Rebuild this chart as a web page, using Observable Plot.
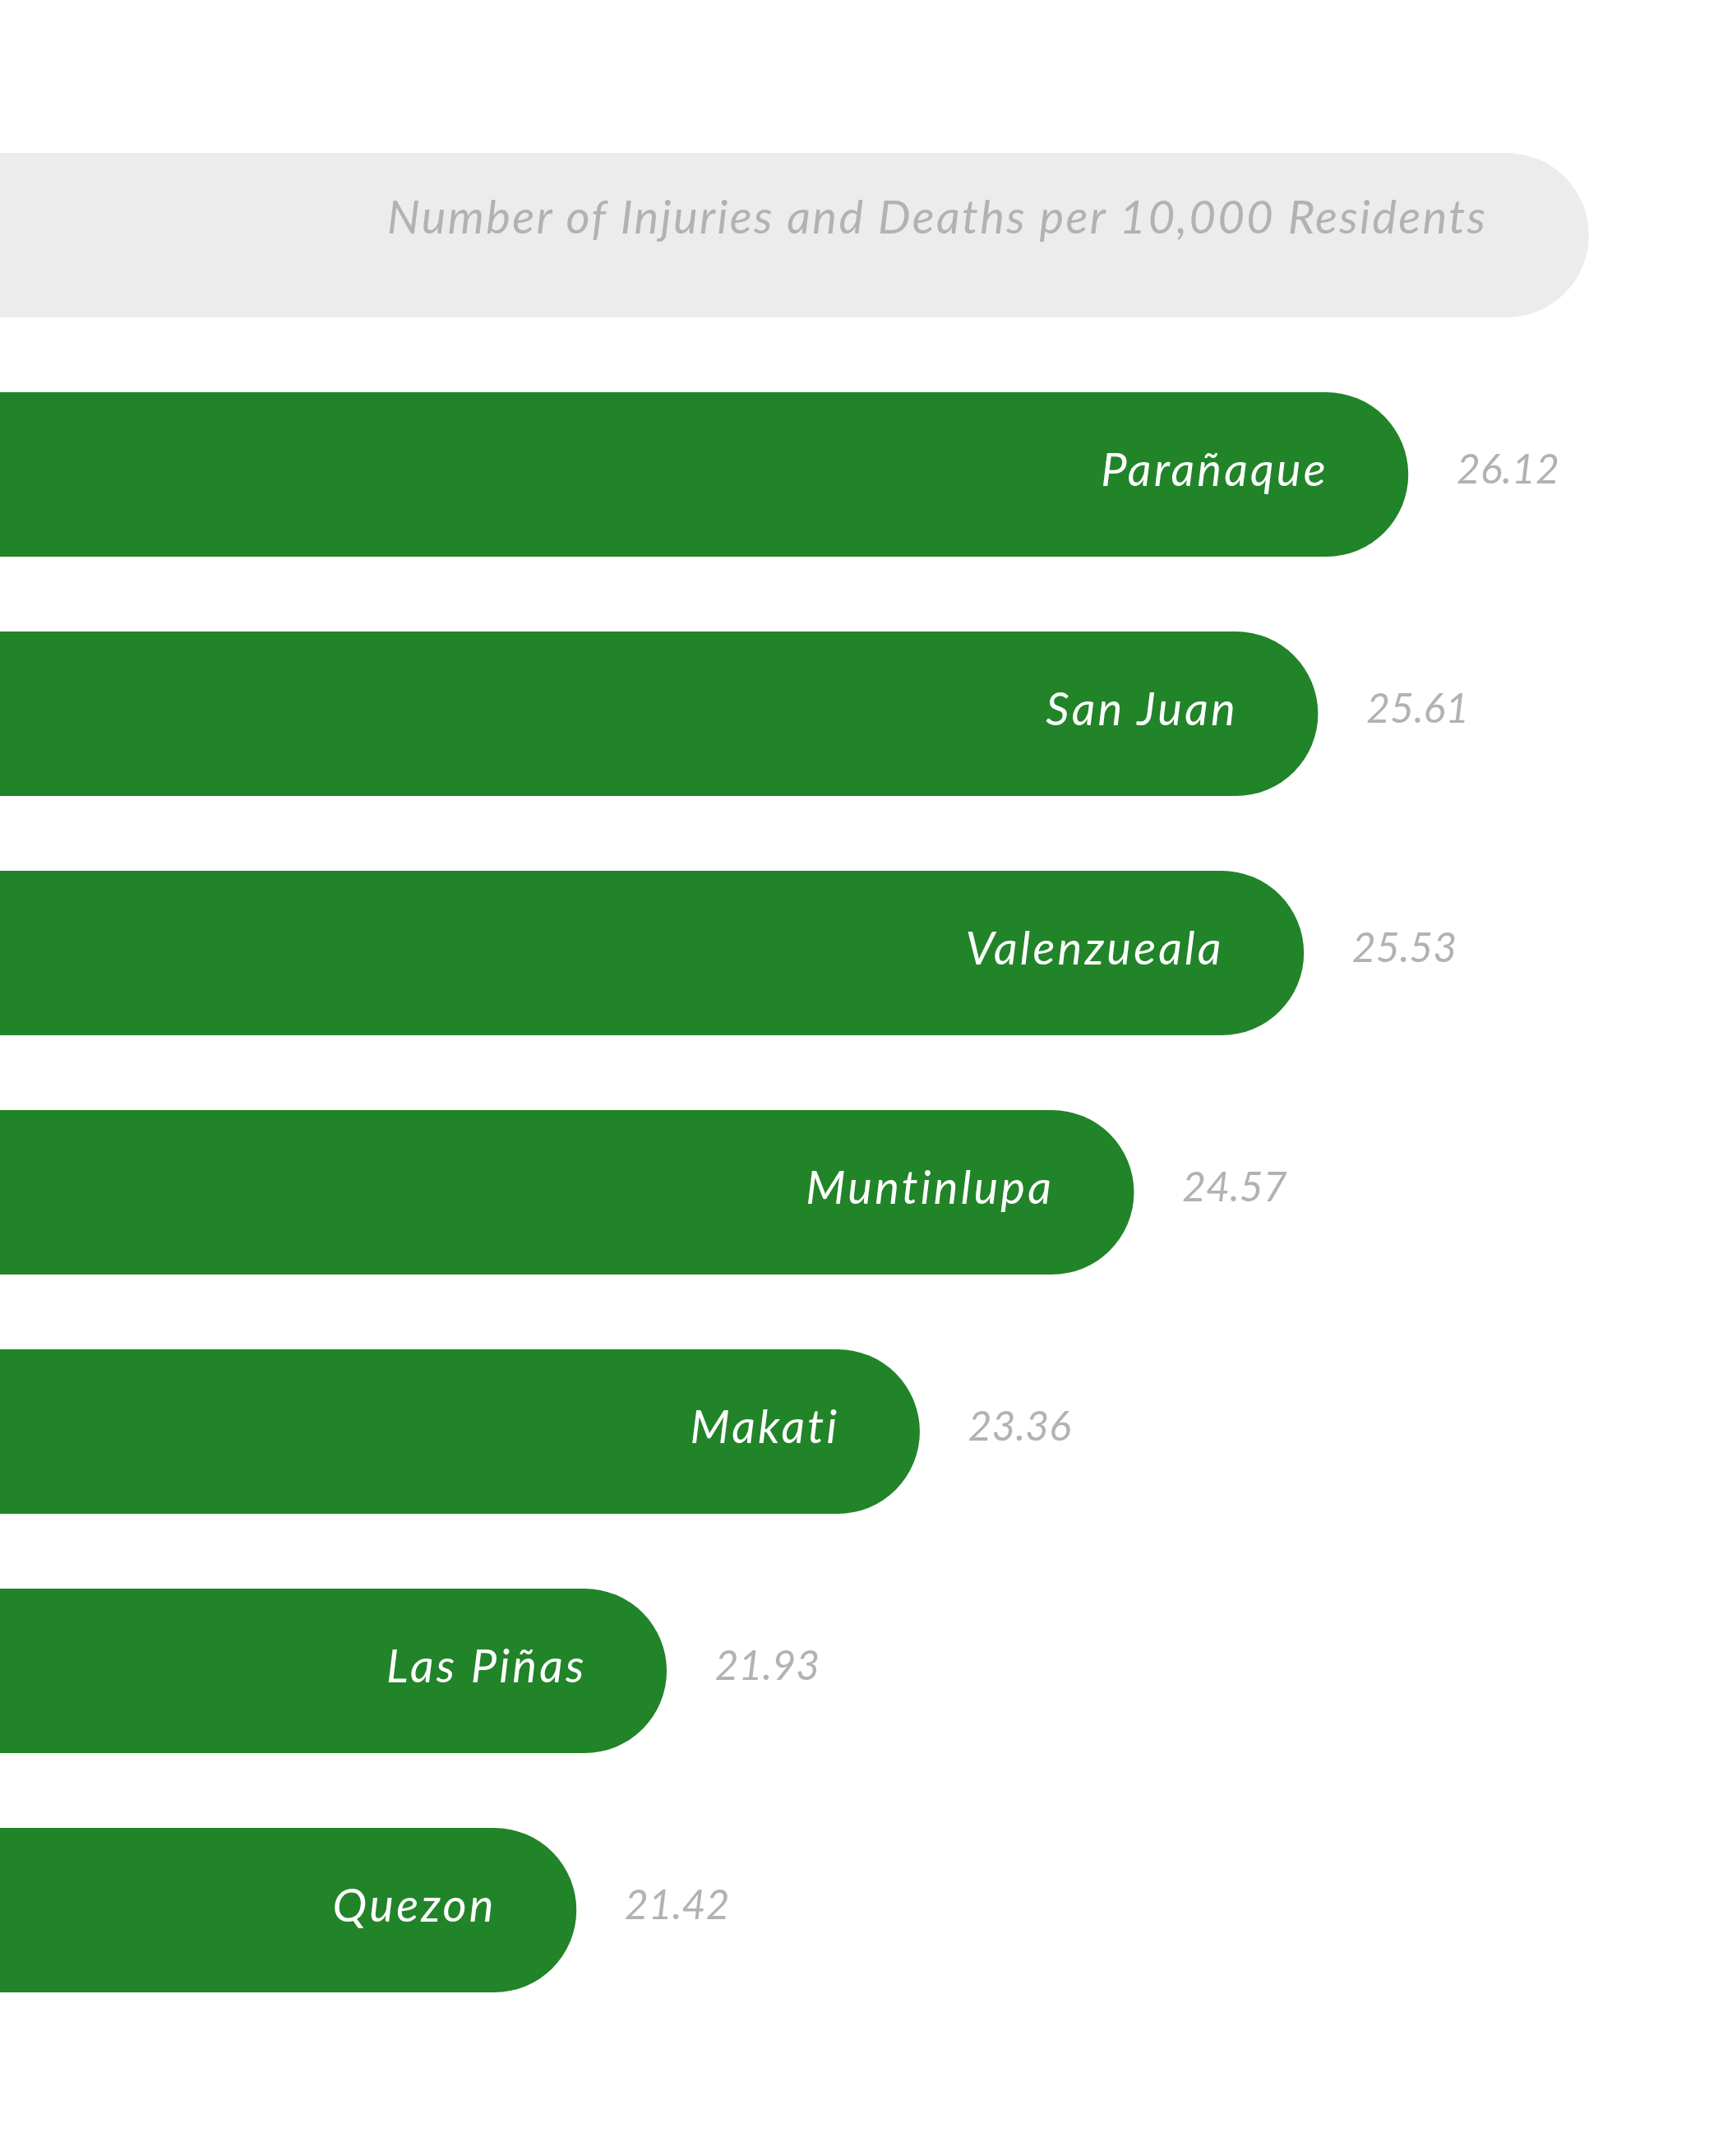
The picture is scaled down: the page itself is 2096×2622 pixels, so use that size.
<!DOCTYPE html>
<html>
<head>
<meta charset="utf-8">
<script src="https://cdn.jsdelivr.net/npm/d3@7"></script>
<script src="https://cdn.jsdelivr.net/npm/@observablehq/plot@0.6"></script>
<style>
  html, body { margin: 0; padding: 0; background: #ffffff; }
  #chart svg { display: block; }
</style>
</head>
<body>
<div id="chart"></div>
<script>
// Data
const cities = ["Parañaque", "San Juan", "Valenzueala", "Muntinlupa", "Makati", "Las Piñas", "Quezon"];
const values = [26.12, 25.61, 25.53, 24.57, 23.36, 21.93, 21.42];
const headerLabel = "Number of Injuries and Deaths per 10,000 Residents";
const headerKey = "header";
const headerValue = 27.14;   // extent of the grey header band in data units
const barBase = 15;          // bars start off-canvas, left of the visible domain

const rows = cities.map((city, i) => ({city, value: values[i]}));

const font = "Lato, 'Open Sans', sans-serif";

const chart = Plot.plot({
  width: 2096,
  height: 2622,
  marginLeft: 0,
  marginRight: 0,
  marginTop: 92.5,
  marginBottom: 106,
  style: {background: "#ffffff", fontFamily: font, overflow: "hidden"},
  x: {domain: [18.163, 27.898], axis: null},
  y: {domain: [headerKey, ...cities], paddingInner: 0.314, paddingOuter: 0.314, axis: null},
  marks: [
    Plot.barX([{key: headerKey, v: headerValue}], {
      y: "key", x1: barBase, x2: "v", fill: "#ececec", rx: 100, clip: true
    }),
    Plot.text([{key: headerKey, v: headerValue, label: headerLabel}], {
      y: "key", x: "v", text: "label", textAnchor: "end", dx: -124, dy: -20,
      fill: "#b2b2b2", fontSize: 56, fontStyle: "italic", fontWeight: 400
    }),
    Plot.barX(rows, {
      y: "city", x1: barBase, x2: "value", fill: "#218429", rx: 100, clip: true
    }),
    Plot.text(rows, {
      y: "city", x: "value", text: "city", textAnchor: "end", dx: -98, dy: -4,
      fill: "#ffffff", fontSize: 56, fontStyle: "italic", fontWeight: 400
    }),
    Plot.text(rows, {
      y: "city", x: "value", text: d => d.value.toFixed(2), textAnchor: "start", dx: 58, dy: -6,
      fill: "#b2b2b2", fontSize: 50, fontStyle: "italic", fontWeight: 400
    })
  ]
});

// letter spacing to approximate the wider geometric face of the original
const textGroups = d3.select(chart).selectAll('g[aria-label="text"]').nodes();
if (textGroups[0]) textGroups[0].style.letterSpacing = "2.4px";
if (textGroups[1]) textGroups[1].style.letterSpacing = "3.2px";
if (textGroups[2]) textGroups[2].style.letterSpacing = "0px";

document.getElementById("chart").appendChild(chart);
</script>
</body>
</html>
